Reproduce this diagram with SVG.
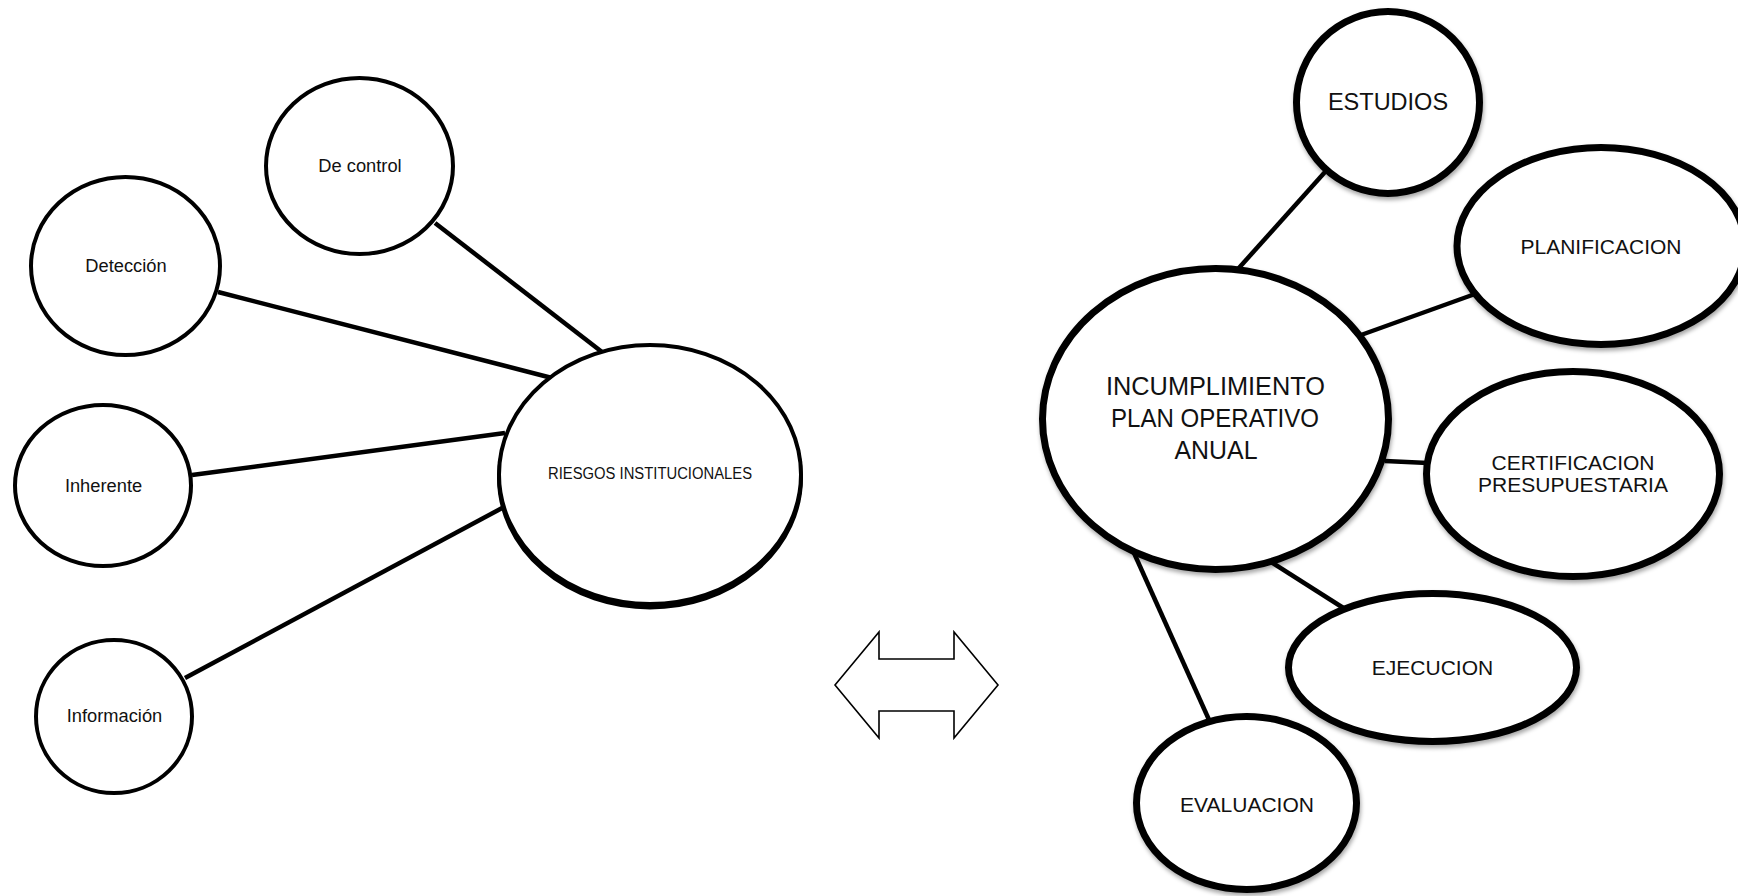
<svg xmlns="http://www.w3.org/2000/svg" width="1738" height="896" viewBox="0 0 1738 896">
<style>
  .bg { fill: #ffffff; }
  .conn line { stroke: #000; stroke-width: 4.5; stroke-linecap: butt; }
  .nodeL { fill: #fff; stroke: #000; stroke-width: 4; }
  .nodeR { fill: #fff; stroke: #000; stroke-width: 7; filter: url(#shadow); }
  .lbl { font-family: "Liberation Sans", Arial, sans-serif; fill: #111; text-anchor: middle; }
  .cal { font-family: "Liberation Sans", Arial, sans-serif; fill: #111; text-anchor: middle; }
</style>
<defs>
  <filter id="shadow" x="-10%" y="-10%" width="120%" height="130%">
    <feDropShadow dx="1" dy="3" stdDeviation="2" flood-color="#000" flood-opacity="0.35"/>
  </filter>
</defs>
<rect class="bg" x="0" y="0" width="1738" height="896"/>

<g id="connectors" class="conn">
  <line x1="435" y1="223" x2="602" y2="352"/>
  <line x1="218" y1="292" x2="552" y2="378"/>
  <line x1="192" y1="475" x2="505" y2="433"/>
  <line x1="185" y1="678" x2="504" y2="507"/>
  <line x1="1325" y1="172" x2="1238" y2="269"/>
  <line x1="1475" y1="294" x2="1361" y2="335"/>
  <line x1="1385" y1="461" x2="1428" y2="463"/>
  <line x1="1271" y1="562" x2="1345" y2="609"/>
  <line x1="1134" y1="553" x2="1210" y2="722"/>
</g>

<g id="double-arrow">
  <polygon points="835,685 879,632 879,659 954,659 954,632 998,685 954,738 954,711 879,711 879,738" fill="#fff" stroke="#000" stroke-width="1.6" stroke-linejoin="miter"/>
</g>

<g id="node-de-control">
  <ellipse class="nodeL" cx="359.5" cy="166" rx="93.5" ry="88"/>
  <text class="lbl" x="360" y="172" font-size="18.3">De control</text>
</g>
<g id="node-deteccion">
  <ellipse class="nodeL" cx="125.5" cy="266" rx="94.5" ry="89"/>
  <text class="lbl" x="126" y="272" font-size="18.3">Detección</text>
</g>
<g id="node-inherente">
  <ellipse class="nodeL" cx="103" cy="485.5" rx="88" ry="80.5"/>
  <text class="lbl" x="103.5" y="492" font-size="18.3">Inherente</text>
</g>
<g id="node-informacion">
  <ellipse class="nodeL" cx="114" cy="716.5" rx="78" ry="76.5"/>
  <text class="lbl" x="114.5" y="722" font-size="18.3">Información</text>
</g>
<g id="node-riesgos">
  <ellipse cx="650" cy="478" rx="151" ry="129.5" fill="#000" stroke="#000" stroke-width="4"/>
  <ellipse class="nodeL" cx="650" cy="474.5" rx="151" ry="129.5"/>
  <text class="cal" x="650" y="479" font-size="16" textLength="204" lengthAdjust="spacingAndGlyphs">RIESGOS INSTITUCIONALES</text>
</g>

<g id="node-estudios">
  <ellipse class="nodeR" cx="1388" cy="102.5" rx="91.5" ry="91"/>
  <text class="lbl" x="1388" y="110" font-size="23.5">ESTUDIOS</text>
</g>
<g id="node-planificacion">
  <ellipse class="nodeR" cx="1601" cy="246" rx="144" ry="98.5"/>
  <text class="lbl" x="1601" y="254" font-size="21">PLANIFICACION</text>
</g>
<g id="node-incumplimiento">
  <ellipse class="nodeR" cx="1215.5" cy="419" rx="173" ry="150.5"/>
  <text class="cal" x="1215.5" y="395" font-size="25" textLength="219" lengthAdjust="spacingAndGlyphs">INCUMPLIMIENTO</text>
  <text class="cal" x="1215" y="427" font-size="25" textLength="208" lengthAdjust="spacingAndGlyphs">PLAN OPERATIVO</text>
  <text class="cal" x="1216" y="459" font-size="25" textLength="83" lengthAdjust="spacingAndGlyphs">ANUAL</text>
</g>
<g id="node-certificacion">
  <ellipse class="nodeR" cx="1573" cy="474" rx="146.5" ry="102.5"/>
  <text class="lbl" x="1573" y="470" font-size="21">CERTIFICACION</text>
  <text class="lbl" x="1573" y="492" font-size="21">PRESUPUESTARIA</text>
</g>
<g id="node-ejecucion">
  <ellipse class="nodeR" cx="1432.5" cy="667.5" rx="144" ry="74"/>
  <text class="lbl" x="1432.5" y="675" font-size="21">EJECUCION</text>
</g>
<g id="node-evaluacion">
  <ellipse class="nodeR" cx="1246.5" cy="803" rx="110" ry="86.5"/>
  <text class="lbl" x="1247" y="812" font-size="21">EVALUACION</text>
</g>
</svg>
